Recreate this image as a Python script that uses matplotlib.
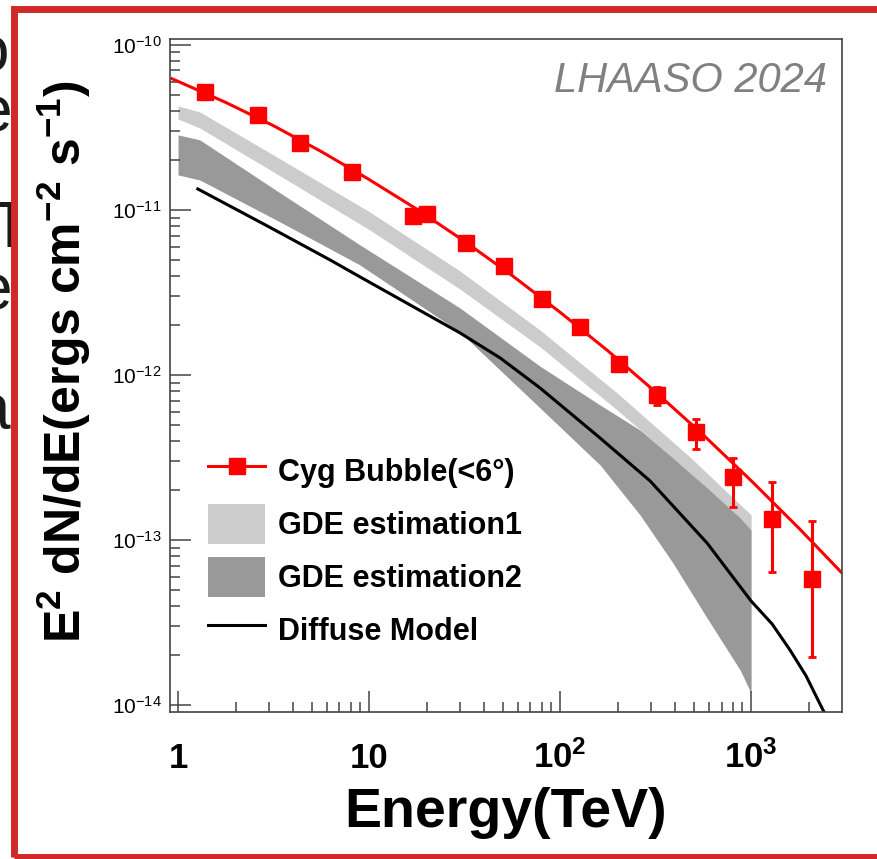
import matplotlib.pyplot as plt
from matplotlib.lines import Line2D
from matplotlib.patches import Patch, Rectangle
from matplotlib.ticker import LogLocator, NullFormatter

plt.rcParams['font.family'] = 'Liberation Sans'
plt.rcParams['mathtext.fontset'] = 'custom'
plt.rcParams['mathtext.rm'] = 'Liberation Sans'
plt.rcParams['mathtext.it'] = 'Liberation Sans:italic'
plt.rcParams['mathtext.bf'] = 'Liberation Sans:bold'

# Cyg Bubble data points (TeV, erg cm^-2 s^-1)
cyg_E = [1.38, 2.62, 4.35, 8.15, 17.0, 20.1, 32.2, 50.9, 80.5, 127, 204, 322, 515, 805, 1288, 2085]
cyg_flux = [5.19e-11, 3.77e-11, 2.55e-11, 1.70e-11, 9.2e-12, 9.4e-12, 6.3e-12, 4.55e-12,
            2.9e-12, 1.95e-12, 1.17e-12, 7.6e-13, 4.5e-13, 2.4e-13, 1.34e-13, 5.8e-14]
cyg_low = [5.19e-11, 3.77e-11, 2.55e-11, 1.70e-11, 9.2e-12, 9.4e-12, 6.3e-12, 4.55e-12,
           2.9e-12, 1.95e-12, 1.12e-12, 6.6e-13, 3.57e-13, 1.58e-13, 6.4e-14, 1.95e-14]
cyg_up = [5.19e-11, 3.77e-11, 2.55e-11, 1.70e-11, 9.2e-12, 9.4e-12, 6.3e-12, 4.55e-12,
          2.9e-12, 1.95e-12, 1.22e-12, 8.45e-13, 5.41e-13, 3.14e-13, 2.25e-13, 1.30e-13]

# fitted spectrum
fit_E = [0.93, 1.78, 3.16, 5.62, 10, 17.8, 31.6, 56.2, 100, 178, 316, 562, 1000, 1778, 2990]
fit_flux = [6.24e-11, 4.48e-11, 3.24e-11, 2.26e-11, 1.53e-11, 1.01e-11, 6.46e-12, 4.00e-12,
            2.40e-12, 1.40e-12, 7.89e-13, 4.33e-13, 2.29e-13, 1.18e-13, 6.31e-14]

# GDE estimation1 band
gde1_E = [1.0, 1.30, 3.42, 10.1, 29.9, 78.6, 199, 479, 1000]
gde1_hi = [4.27e-11, 3.93e-11, 2.04e-11, 9.72e-12, 4.27e-12, 1.87e-12, 7.78e-13, 3.18e-13, 1.42e-13]
gde1_lo = [3.56e-11, 3.14e-11, 1.61e-11, 7.56e-12, 3.32e-12, 1.48e-12, 6.14e-13, 2.55e-13, 1.15e-13]

# GDE estimation2 band
gde2_E = [1.0, 1.30, 3.42, 8.97, 29.9, 78.6, 162, 262, 390, 588, 876, 1000]
gde2_hi = [2.85e-11, 2.66e-11, 1.27e-11, 6.14e-12, 2.55e-12, 1.13e-12, 6.58e-13, 4.64e-13,
           3.14e-13, 2.07e-13, 1.36e-13, 1.15e-13]
gde2_lo = [1.63e-11, 1.52e-11, 8.46e-12, 4.64e-12, 1.82e-12, 6.31e-13, 2.85e-13, 1.42e-13,
           7.25e-14, 3.37e-14, 1.63e-14, 1.18e-14]

# diffuse model
diff_E = [1.27, 3.0, 6.25, 8.97, 29.9, 48.5, 78.6, 162, 296, 588, 1000, 1288, 1600, 1941, 2298, 2470]
diff_flux = [1.34e-11, 7.89e-12, 4.98e-12, 3.93e-12, 1.80e-12, 1.27e-12, 8.34e-13, 4.15e-13,
             2.28e-13, 9.59e-14, 4.27e-14, 3.10e-14, 2.15e-14, 1.50e-14, 1.01e-14, 8.57e-15]

xtick_vals = [1, 10, 100, 1000]
xtick_labels = ['1', '10', r'$\mathdefault{10^{2}}$', r'$\mathdefault{10^{3}}$']
ytick_vals = [1e-14, 1e-13, 1e-12, 1e-11, 1e-10]
ytick_labels = [r'$\mathdefault{10^{-14}}$', r'$\mathdefault{10^{-13}}$', r'$\mathdefault{10^{-12}}$',
                r'$\mathdefault{10^{-11}}$', r'$\mathdefault{10^{-10}}$']

W, H = 877, 859
fig = plt.figure(figsize=(W / 100, H / 100), dpi=100)
ax = fig.add_axes([170 / W, 1 - 712 / H, 672 / W, 673 / H])

ax.fill_between(gde1_E, gde1_lo, gde1_hi, color='#cccccc', lw=0)
ax.fill_between(gde2_E, gde2_lo, gde2_hi, color='#999999', lw=0)
ax.plot(diff_E, diff_flux, color='black', lw=2.2)
ax.plot(fit_E, fit_flux, color='red', lw=2.2)
yerr = [[f - l for f, l in zip(cyg_flux, cyg_low)], [u - f for f, u in zip(cyg_flux, cyg_up)]]
ax.errorbar(cyg_E, cyg_flux, yerr=yerr, fmt='s', color='red', ms=11, elinewidth=2.2,
            capsize=3, capthick=2)

ax.set_xscale('log')
ax.set_yscale('log')
ax.set_xlim(0.908, 2990)
ax.set_ylim(9.08e-15, 1.086e-10)

ax.tick_params(which='both', direction='in', top=False, right=False, color='#444444', width=1.1)
ax.tick_params(which='major', length=15)
ax.tick_params(which='minor', length=7.5)
ax.tick_params(axis='x', pad=40, labelsize=25)
ax.tick_params(axis='y', pad=5.8, labelsize=15)

ax.set_xticks(xtick_vals, xtick_labels)
ax.set_yticks(ytick_vals, ytick_labels)
ax.xaxis.set_minor_locator(LogLocator(base=10, subs=range(2, 10), numticks=20))
ax.yaxis.set_minor_locator(LogLocator(base=10, subs=range(2, 10), numticks=20))
ax.xaxis.set_minor_formatter(NullFormatter())
ax.yaxis.set_minor_formatter(NullFormatter())
for lab in ax.get_xticklabels():
    lab.set_fontweight('bold')
    lab.set_va('baseline')

for s in ax.spines.values():
    s.set_linewidth(1.2)
    s.set_color('#444444')

ax.set_xlabel('Energy(TeV)', fontsize=40, fontweight='bold')
ax.xaxis.label.set_va('baseline')
ax.xaxis.set_label_coords(0.5, -0.171)
ax.set_ylabel(r'E$^{\mathdefault{2}}$ dN/dE(ergs cm$^{\mathdefault{-2}}$ s$^{\mathdefault{-1}}$)',
              fontsize=36, fontweight='bold')
ax.yaxis.set_label_coords(-0.1146, 0.52)

ax.text(0.978, 0.921, 'LHAASO 2024', transform=ax.transAxes, ha='right', va='baseline',
        fontsize=30, style='italic', color='#808080')

handles = [Line2D([], [], color='red', lw=2.2, marker='s', ms=11),
           Patch(facecolor='#cccccc', edgecolor='none'),
           Patch(facecolor='#999999', edgecolor='none'),
           Line2D([], [], color='black', lw=2.2)]
labels = ['Cyg Bubble(<6°)', 'GDE estimation1', 'GDE estimation2', 'Diffuse Model']
ax.legend(handles, labels, loc='upper left', bbox_to_anchor=(38 / 672, 261 / 673),
          frameon=False, prop={'weight': 'bold', 'size': 22}, handlelength=1.87,
          handleheight=1.64, handletextpad=0.43, labelspacing=0.42, borderpad=0,
          borderaxespad=0)

# slide background: cut-off text on the left, white picture, red frame
for ch, x, y in [('o', 9, 71), ('e', 12, 131), ('T', 30, 247), ('e', 12, 309), ('a', 10, 429)]:
    fig.text(x / W, 1 - y / H, ch, ha='right', va='baseline', fontsize=46, color='#1a1a1a', zorder=-2)
fig.add_artist(Rectangle((13.5 / W, 0), 1, 1, transform=fig.transFigure, facecolor='white',
                         edgecolor='none', zorder=-1))
fig.add_artist(Rectangle((13.5 / W, (H - 857) / H), (W + 20) / W, 848 / H, transform=fig.transFigure,
                         fill=False, edgecolor='#cf2a27', lw=5, zorder=10))

fig.savefig('out.png', dpi=100, facecolor='white')
